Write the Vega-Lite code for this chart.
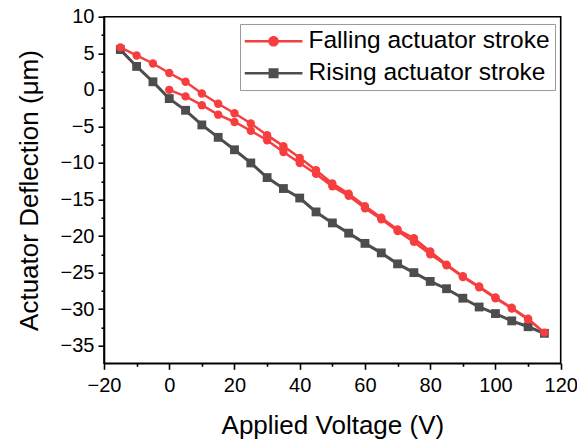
{
  "$schema": "https://vega.github.io/schema/vega-lite/v6.json",
  "width": 456.7,
  "height": 346.6,
  "autosize": {"type": "none"},
  "padding": {"left": 104, "top": 16.7, "right": 16.3, "bottom": 75.7},
  "background": "white",
  "config": {
    "font": "Liberation Sans",
    "view": {"stroke": "black", "strokeWidth": 1.6},
    "axis": {"grid": false, "domainColor": "black", "domainWidth": 1.6, "tickColor": "black", "tickWidth": 1.6, "labelColor": "black", "titleColor": "black", "labelFont": "Liberation Sans", "titleFont": "Liberation Sans", "titleFontWeight": "normal", "labelOverlap": false, "labelBound": false, "labelFlush": false}
  },
  "datasets": {
    "pts": [
      {"series": "Rising actuator stroke", "voltage": -15, "deflection": 5.5, "order": 0},
      {"series": "Rising actuator stroke", "voltage": -10, "deflection": 3.2, "order": 1},
      {"series": "Rising actuator stroke", "voltage": -5, "deflection": 1.1, "order": 2},
      {"series": "Rising actuator stroke", "voltage": 0, "deflection": -1.2, "order": 3},
      {"series": "Rising actuator stroke", "voltage": 5, "deflection": -2.8, "order": 4},
      {"series": "Rising actuator stroke", "voltage": 10, "deflection": -4.8, "order": 5},
      {"series": "Rising actuator stroke", "voltage": 15, "deflection": -6.5, "order": 6},
      {"series": "Rising actuator stroke", "voltage": 20, "deflection": -8.2, "order": 7},
      {"series": "Rising actuator stroke", "voltage": 25, "deflection": -10.0, "order": 8},
      {"series": "Rising actuator stroke", "voltage": 30, "deflection": -12.0, "order": 9},
      {"series": "Rising actuator stroke", "voltage": 35, "deflection": -13.5, "order": 10},
      {"series": "Rising actuator stroke", "voltage": 40, "deflection": -14.8, "order": 11},
      {"series": "Rising actuator stroke", "voltage": 45, "deflection": -16.7, "order": 12},
      {"series": "Rising actuator stroke", "voltage": 50, "deflection": -18.2, "order": 13},
      {"series": "Rising actuator stroke", "voltage": 55, "deflection": -19.6, "order": 14},
      {"series": "Rising actuator stroke", "voltage": 60, "deflection": -21.0, "order": 15},
      {"series": "Rising actuator stroke", "voltage": 65, "deflection": -22.3, "order": 16},
      {"series": "Rising actuator stroke", "voltage": 70, "deflection": -23.8, "order": 17},
      {"series": "Rising actuator stroke", "voltage": 75, "deflection": -25.0, "order": 18},
      {"series": "Rising actuator stroke", "voltage": 80, "deflection": -26.2, "order": 19},
      {"series": "Rising actuator stroke", "voltage": 85, "deflection": -27.2, "order": 20},
      {"series": "Rising actuator stroke", "voltage": 90, "deflection": -28.5, "order": 21},
      {"series": "Rising actuator stroke", "voltage": 95, "deflection": -29.7, "order": 22},
      {"series": "Rising actuator stroke", "voltage": 100, "deflection": -30.6, "order": 23},
      {"series": "Rising actuator stroke", "voltage": 105, "deflection": -31.6, "order": 24},
      {"series": "Rising actuator stroke", "voltage": 110, "deflection": -32.4, "order": 25},
      {"series": "Rising actuator stroke", "voltage": 115, "deflection": -33.3, "order": 26},
      {"series": "Falling actuator stroke", "voltage": 0, "deflection": 0.0, "order": 0},
      {"series": "Falling actuator stroke", "voltage": 5, "deflection": -0.9, "order": 1},
      {"series": "Falling actuator stroke", "voltage": 10, "deflection": -2.1, "order": 2},
      {"series": "Falling actuator stroke", "voltage": 15, "deflection": -3.4, "order": 3},
      {"series": "Falling actuator stroke", "voltage": 20, "deflection": -4.4, "order": 4},
      {"series": "Falling actuator stroke", "voltage": 25, "deflection": -5.6, "order": 5},
      {"series": "Falling actuator stroke", "voltage": 30, "deflection": -6.9, "order": 6},
      {"series": "Falling actuator stroke", "voltage": 35, "deflection": -8.5, "order": 7},
      {"series": "Falling actuator stroke", "voltage": 40, "deflection": -10.0, "order": 8},
      {"series": "Falling actuator stroke", "voltage": 45, "deflection": -11.5, "order": 9},
      {"series": "Falling actuator stroke", "voltage": 50, "deflection": -13.2, "order": 10},
      {"series": "Falling actuator stroke", "voltage": 55, "deflection": -14.5, "order": 11},
      {"series": "Falling actuator stroke", "voltage": 60, "deflection": -16.2, "order": 12},
      {"series": "Falling actuator stroke", "voltage": 65, "deflection": -17.7, "order": 13},
      {"series": "Falling actuator stroke", "voltage": 70, "deflection": -19.3, "order": 14},
      {"series": "Falling actuator stroke", "voltage": 75, "deflection": -20.8, "order": 15},
      {"series": "Falling actuator stroke", "voltage": 80, "deflection": -22.5, "order": 16},
      {"series": "Falling actuator stroke", "voltage": 85, "deflection": -24.0, "order": 17},
      {"series": "Falling actuator stroke", "voltage": 90, "deflection": -25.6, "order": 18},
      {"series": "Falling actuator stroke", "voltage": 95, "deflection": -27.0, "order": 19},
      {"series": "Falling actuator stroke", "voltage": 100, "deflection": -28.5, "order": 20},
      {"series": "Falling actuator stroke", "voltage": 105, "deflection": -29.9, "order": 21},
      {"series": "Falling actuator stroke", "voltage": 110, "deflection": -31.4, "order": 22},
      {"series": "Falling actuator stroke", "voltage": 115, "deflection": -33.2, "order": 23},
      {"series": "Falling actuator stroke", "voltage": 110, "deflection": -31.3, "order": 24},
      {"series": "Falling actuator stroke", "voltage": 105, "deflection": -29.8, "order": 25},
      {"series": "Falling actuator stroke", "voltage": 100, "deflection": -28.4, "order": 26},
      {"series": "Falling actuator stroke", "voltage": 95, "deflection": -26.9, "order": 27},
      {"series": "Falling actuator stroke", "voltage": 90, "deflection": -25.5, "order": 28},
      {"series": "Falling actuator stroke", "voltage": 85, "deflection": -23.9, "order": 29},
      {"series": "Falling actuator stroke", "voltage": 80, "deflection": -22.1, "order": 30},
      {"series": "Falling actuator stroke", "voltage": 75, "deflection": -20.3, "order": 31},
      {"series": "Falling actuator stroke", "voltage": 70, "deflection": -19.1, "order": 32},
      {"series": "Falling actuator stroke", "voltage": 65, "deflection": -17.5, "order": 33},
      {"series": "Falling actuator stroke", "voltage": 60, "deflection": -15.9, "order": 34},
      {"series": "Falling actuator stroke", "voltage": 55, "deflection": -14.2, "order": 35},
      {"series": "Falling actuator stroke", "voltage": 50, "deflection": -12.8, "order": 36},
      {"series": "Falling actuator stroke", "voltage": 45, "deflection": -11.0, "order": 37},
      {"series": "Falling actuator stroke", "voltage": 40, "deflection": -9.3, "order": 38},
      {"series": "Falling actuator stroke", "voltage": 35, "deflection": -7.7, "order": 39},
      {"series": "Falling actuator stroke", "voltage": 30, "deflection": -6.2, "order": 40},
      {"series": "Falling actuator stroke", "voltage": 25, "deflection": -4.6, "order": 41},
      {"series": "Falling actuator stroke", "voltage": 20, "deflection": -3.2, "order": 42},
      {"series": "Falling actuator stroke", "voltage": 15, "deflection": -1.9, "order": 43},
      {"series": "Falling actuator stroke", "voltage": 10, "deflection": -0.5, "order": 44},
      {"series": "Falling actuator stroke", "voltage": 5, "deflection": 1.1, "order": 45},
      {"series": "Falling actuator stroke", "voltage": 0, "deflection": 2.3, "order": 46},
      {"series": "Falling actuator stroke", "voltage": -5, "deflection": 3.6, "order": 47},
      {"series": "Falling actuator stroke", "voltage": -10, "deflection": 4.7, "order": 48},
      {"series": "Falling actuator stroke", "voltage": -15, "deflection": 5.8, "order": 49}
    ]
  },
  "data": {"name": "pts"},
  "resolve": {"axis": {"x": "independent", "y": "independent"}},
  "layer": [
    {
      "transform": [{"filter": "datum.series === 'Rising actuator stroke'"}],
      "mark": {"type": "line", "strokeWidth": 3, "color": "#4d4d4d"},
      "encoding": {
        "x": {"field": "voltage", "type": "quantitative", "scale": {"domain": [-20, 120], "nice": false, "zero": false},
          "axis": {"orient": "bottom", "values": [-20, 0, 20, 40, 60, 80, 100, 120], "tickSize": 6, "labelFontSize": 20, "labelPadding": 6, "title": "Applied Voltage (V)", "titleFontSize": 26, "titleBaseline": "alphabetic", "titleY": 69.7}},
        "y": {"field": "deflection", "type": "quantitative", "scale": {"domain": [-37.4, 10], "nice": false, "zero": false},
          "axis": {"orient": "left", "values": [-35, -30, -25, -20, -15, -10, -5, 0, 5, 10], "tickSize": 6, "labelFontSize": 20, "labelPadding": 4, "title": "Actuator Deflection (μm)", "titleFontSize": 26, "titleBaseline": "alphabetic", "titleX": -66.5}},
        "order": {"field": "order", "type": "quantitative"}
      }
    },
    {
      "transform": [{"filter": "datum.series === 'Rising actuator stroke'"}],
      "mark": {"type": "point", "shape": "square", "filled": true, "size": 78, "color": "#4d4d4d", "opacity": 1},
      "encoding": {
        "x": {"field": "voltage", "type": "quantitative",
          "axis": {"orient": "bottom", "values": [-10, 10, 30, 50, 70, 90, 110], "tickSize": 3, "labels": false, "domain": false, "title": null}},
        "y": {"field": "deflection", "type": "quantitative",
          "axis": {"orient": "left", "values": [-32.5, -27.5, -22.5, -17.5, -12.5, -7.5, -2.5, 2.5, 7.5], "tickSize": 3, "labels": false, "domain": false, "title": null}}
      }
    },
    {
      "transform": [{"filter": "datum.series === 'Falling actuator stroke'"}],
      "mark": {"type": "line", "strokeWidth": 2.5, "color": "#f73e3e"},
      "encoding": {
        "x": {"field": "voltage", "type": "quantitative", "axis": null},
        "y": {"field": "deflection", "type": "quantitative", "axis": null},
        "order": {"field": "order", "type": "quantitative"}
      }
    },
    {
      "transform": [{"filter": "datum.series === 'Falling actuator stroke'"}],
      "mark": {"type": "point", "shape": "circle", "filled": true, "size": 70, "color": "#f73e3e", "opacity": 1},
      "encoding": {
        "x": {"field": "voltage", "type": "quantitative", "axis": null},
        "y": {"field": "deflection", "type": "quantitative", "axis": null}
      }
    },
    {
      "mark": {"type": "point", "filled": true, "opacity": 0},
      "encoding": {
        "x": {"field": "voltage", "type": "quantitative", "axis": null},
        "y": {"field": "deflection", "type": "quantitative", "axis": null},
        "color": {"field": "series", "type": "nominal",
          "scale": {"domain": ["Falling actuator stroke", "Rising actuator stroke"], "range": ["#f73e3e", "#4d4d4d"]},
          "legend": {"orient": "none", "legendX": 136, "legendY": 7.3, "title": null, "strokeColor": "#9a9a9a", "padding": 5, "symbolSize": 400, "symbolStrokeWidth": 0, "symbolOpacity": 1, "labelOffset": 39, "labelFontSize": 24.5, "labelFont": "Liberation Sans", "labelColor": "black", "rowPadding": 7, "labelLimit": 400}},
        "shape": {"field": "series", "type": "nominal",
          "scale": {"domain": ["Falling actuator stroke", "Rising actuator stroke"], "range": ["M-1.25,-0.12H4.52V0.12H-1.25Z M1.1,0A0.53,0.53,0,1,1,2.16,0A0.53,0.53,0,1,1,1.1,0Z", "M-1.25,-0.12H4.52V0.12H-1.25Z M1.13,-0.5H2.13V0.5H1.13Z"]},
          "legend": {"orient": "none", "legendX": 136, "legendY": 7.3, "title": null, "strokeColor": "#9a9a9a", "padding": 5, "symbolSize": 400, "symbolStrokeWidth": 0, "symbolOpacity": 1, "labelOffset": 39, "labelFontSize": 24.5, "labelFont": "Liberation Sans", "labelColor": "black", "rowPadding": 7, "labelLimit": 400}}
      }
    }
  ]
}
